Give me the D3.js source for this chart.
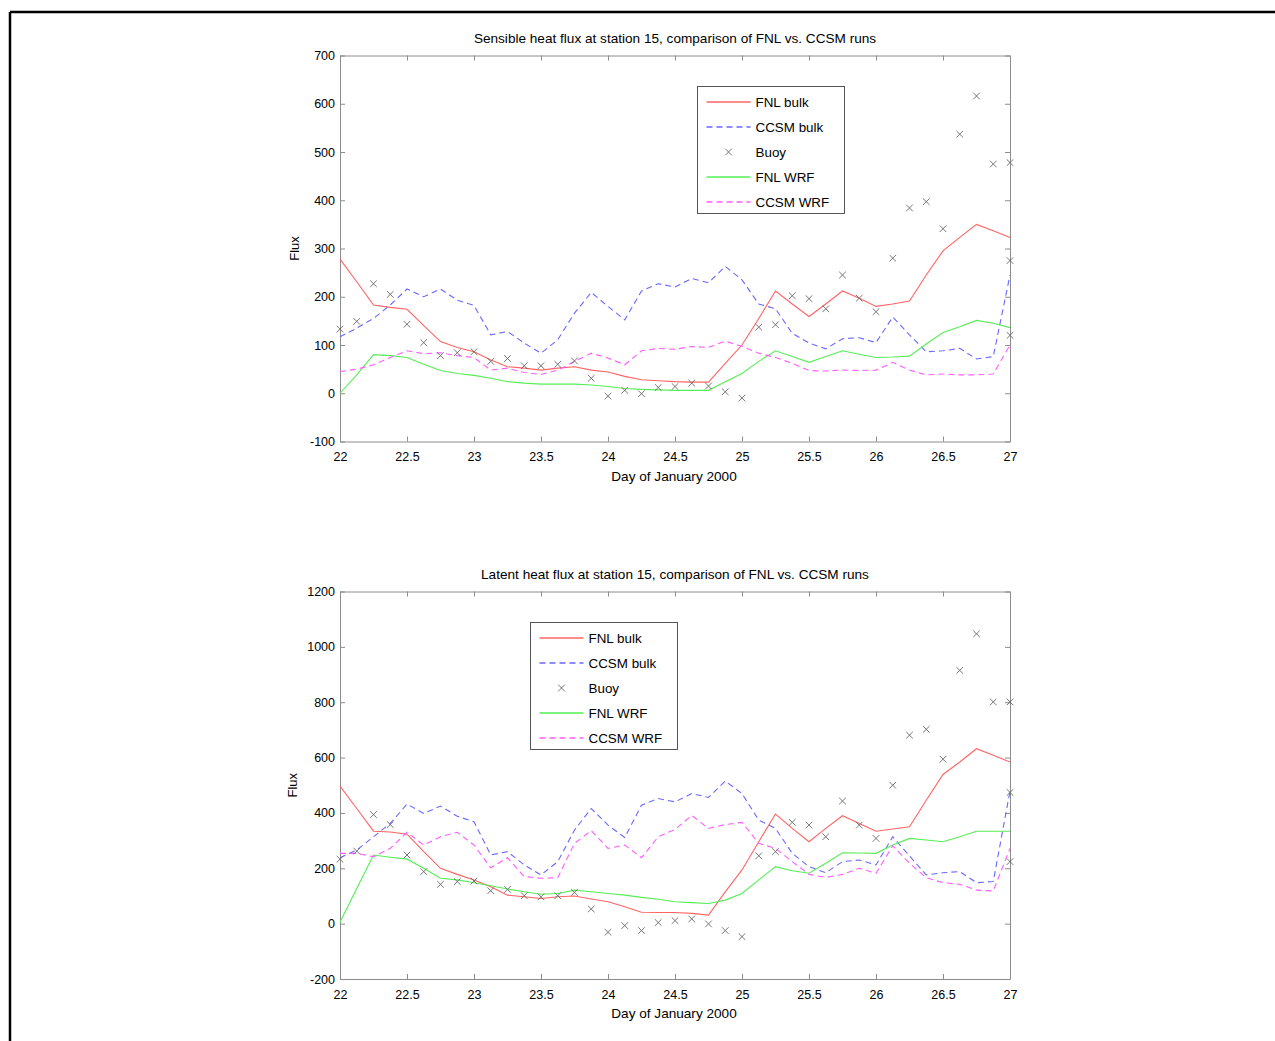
<!doctype html>
<html>
<head>
<meta charset="utf-8">
<title>Heat flux at station 15</title>
<script src="https://d3js.org/d3.v7.min.js"></script>
<style>
    body { margin: 0; background: #fff; }
    svg { display: block; font-family: "Liberation Sans", Arial, Helvetica, sans-serif; }
    .axis path, .axis line { stroke: #8c8c8c; }
    .axis text { fill: #000; font-size: 12.5px; }
</style>
</head>
<body>
<svg width="1275" height="1041"></svg>
<script>

// time axis: every 3 hours from Jan 22 to Jan 27
var days = [22, 22.125, 22.25, 22.375, 22.5, 22.625, 22.75, 22.875,
            23, 23.125, 23.25, 23.375, 23.5, 23.625, 23.75, 23.875,
            24, 24.125, 24.25, 24.375, 24.5, 24.625, 24.75, 24.875,
            25, 25.125, 25.25, 25.375, 25.5, 25.625, 25.75, 25.875,
            26, 26.125, 26.25, 26.375, 26.5, 26.625, 26.75, 26.875, 27];
var dayTicks = [22, 22.5, 23, 23.5, 24, 24.5, 25, 25.5, 26, 26.5, 27];

// sensible heat flux
var sensFnlBulk = [278, 231, 183, 178, 174, 140, 107, 95, 86, 69, 55, 52, 48, 52, 55, 48, 44, 35, 28, 26, 24,
                   23, 23, 62, 100, 155, 212, 185, 159, 185, 212, 197, 180, 185, 191, 245, 295, 323, 350, 337, 323];
var sensCcsmBulk = [117, 135, 155, 183, 216, 200, 216, 193, 182, 121, 128, 104, 83, 111, 166, 209, 180, 152, 212, 227, 220,
                    238, 229, 263, 235, 185, 175, 124, 104, 92, 113, 115, 105, 158, 121, 86, 88, 93, 71, 76, 245];
var sensBuoy = [133, 149, 227, 205, 143, 105, 78, 84, 86, 66, 72, 57, 57, 60, 67, 31, -6, 6, -1, 12, 14,
                21, 15, 3, -10, 137, 142, 202, 196, 175, 245, 197, 169, 280, 384, 397, 341, 537, 616, 475, 478];
var sensBuoyExtraDays = [27, 27];
var sensBuoyExtra = [275, 120];
var sensFnlWrf = [0, 38, 80, 78, 74, 60, 47, 41, 37, 31, 24, 21, 19, 19, 19, 17, 14, 10, 8, 7, 6,
                  6, 6, 24, 41, 66, 88, 76, 64, 76, 88, 81, 74, 75, 77, 102, 126, 138, 151, 145, 136];
var sensCcsmWrf = [45, 50, 59, 74, 88, 82, 84, 78, 74, 48, 52, 43, 39, 48, 66, 83, 73, 59, 88, 93, 91,
                   97, 95, 108, 97, 83, 74, 62, 47, 46, 48, 47, 48, 64, 48, 38, 40, 38, 38, 40, 100];
var sensTicks = [-100, 0, 100, 200, 300, 400, 500, 600, 700];

// latent heat flux
var latFnlBulk = [497, 416, 334, 331, 323, 260, 200, 178, 158, 133, 103, 97, 91, 97, 100, 89, 79, 61, 41, 40, 40,
                  37, 31, 115, 194, 296, 396, 344, 296, 344, 390, 362, 334, 342, 350, 446, 539, 584, 632, 608, 584];
var latCcsmBulk = [238, 266, 314, 362, 432, 398, 425, 388, 368, 248, 260, 212, 176, 224, 338, 416, 356, 311, 428, 452, 440,
                   470, 456, 515, 470, 374, 344, 254, 206, 184, 224, 230, 212, 314, 245, 176, 184, 188, 148, 152, 479];
var latBuoy = [233, 262, 394, 358, 248, 188, 142, 152, 154, 119, 124, 101, 97, 101, 113, 53, -31, -7, -25, 4, 11,
               17, -1, -25, -47, 245, 260, 366, 356, 314, 443, 356, 308, 500, 681, 702, 594, 915, 1047, 801, 801];
var latBuoyExtraDays = [27, 27];
var latBuoyExtra = [474, 224];
var latFnlWrf = [5, 127, 248, 240, 233, 200, 164, 158, 148, 137, 125, 115, 106, 109, 121, 115, 109, 103, 95, 88, 79,
                 76, 73, 85, 109, 158, 206, 191, 182, 218, 256, 255, 254, 284, 308, 302, 296, 314, 334, 334, 334];
var latCcsmWrf = [254, 254, 242, 272, 330, 284, 314, 330, 284, 202, 238, 170, 164, 166, 290, 336, 272, 284, 238, 314, 340,
                  391, 344, 358, 366, 290, 272, 224, 178, 167, 178, 200, 182, 281, 218, 166, 148, 142, 121, 118, 272];
var latTicks = [-200, 0, 200, 400, 600, 800, 1000, 1200];

var seriesNames = ["FNL bulk", "CCSM bulk", "Buoy", "FNL WRF", "CCSM WRF"];
var seriesColors = ["#ff6464", "#6868ff", "#666666", "#55ee55", "#ff5cff"];
var seriesDash = [null, "6,4", null, null, "6,4"];

var svg = d3.select("svg");

// outer frame
svg.append("line").attr("x1", 10).attr("y1", 12).attr("x2", 1275).attr("y2", 12)
   .attr("stroke", "#000").attr("stroke-width", 2.5);
svg.append("line").attr("x1", 10).attr("y1", 12).attr("x2", 10).attr("y2", 1041)
   .attr("stroke", "#000").attr("stroke-width", 2.5);

function drawPanel(p) {
    var x = d3.scaleLinear().domain([22, 27]).range([340, 1010]);
    var y = d3.scaleLinear().domain(p.yDomain).range([p.bottom, p.top]);
    var g = svg.append("g");

    g.append("g").attr("class", "axis")
     .attr("transform", "translate(0," + p.bottom + ")")
     .call(d3.axisBottom(x).tickValues(dayTicks).tickFormat(function(d) { return d; })
           .tickSizeInner(-5).tickSizeOuter(0).tickPadding(11));
    g.append("g").attr("class", "axis")
     .attr("transform", "translate(0," + p.top + ")")
     .call(d3.axisTop(x).tickValues(dayTicks).tickFormat("").tickSizeInner(-5).tickSizeOuter(0));
    g.append("g").attr("class", "axis")
     .attr("transform", "translate(340,0)")
     .call(d3.axisLeft(y).tickValues(p.yTicks).tickFormat(function(d) { return d; })
           .tickSizeInner(-5).tickSizeOuter(0).tickPadding(5));
    g.append("g").attr("class", "axis")
     .attr("transform", "translate(1010,0)")
     .call(d3.axisRight(y).tickValues(p.yTicks).tickFormat("").tickSizeInner(-5).tickSizeOuter(0));

    g.selectAll(".axis .domain").attr("stroke", "#8c8c8c");

    g.append("text").attr("x", 675).attr("y", p.top - 13)
     .attr("text-anchor", "middle").attr("font-size", "13.6px").attr("fill", "#000")
     .text(p.title);
    g.append("text").attr("x", 674).attr("y", p.bottom + 39)
     .attr("text-anchor", "middle").attr("font-size", "13.6px").attr("fill", "#000")
     .text("Day of January 2000");
    g.append("text")
     .attr("transform", "translate(" + p.fluxX + "," + ((p.top + p.bottom) / 2) + ") rotate(-90)")
     .attr("text-anchor", "middle").attr("font-size", "13px").attr("fill", "#000")
     .text("Flux");

    var line = d3.line()
        .x(function(d, i) { return x(days[i]); })
        .y(function(d) { return y(d); });

    [0, 1, 3, 4].forEach(function(k) {
        g.append("path").datum(p.series[k])
         .attr("fill", "none")
         .attr("stroke", seriesColors[k])
         .attr("stroke-width", 1.1)
         .attr("stroke-dasharray", seriesDash[k])
         .attr("d", line);
    });

    var buoyPts = p.series[2].map(function(v, i) { return [days[i], v]; })
        .concat(p.extraDays.map(function(d, i) { return [d, p.extraVals[i]]; }));
    var m = 3.3;
    g.selectAll(".buoy").data(buoyPts).enter().append("path")
     .attr("class", "buoy")
     .attr("fill", "none").attr("stroke", seriesColors[2]).attr("stroke-width", 0.9)
     .attr("d", function(d) {
         var cx = x(d[0]), cy = y(d[1]);
         return "M" + (cx - m) + "," + (cy - m) + "L" + (cx + m) + "," + (cy + m) +
                "M" + (cx - m) + "," + (cy + m) + "L" + (cx + m) + "," + (cy - m);
     });

    // legend
    var lg = g.append("g").attr("transform", "translate(" + p.legend[0] + "," + p.legend[1] + ")");
    lg.append("rect").attr("width", 147).attr("height", 127)
      .attr("fill", "#fff").attr("stroke", "#555").attr("stroke-width", 1);
    seriesNames.forEach(function(name, k) {
        var ly = 15.5 + k * 25;
        if (k === 2) {
            lg.append("path")
              .attr("d", "M" + (31 - m) + "," + (ly - m) + "L" + (31 + m) + "," + (ly + m) +
                         "M" + (31 - m) + "," + (ly + m) + "L" + (31 + m) + "," + (ly - m))
              .attr("fill", "none").attr("stroke", seriesColors[k]).attr("stroke-width", 0.9);
        } else {
            lg.append("line").attr("x1", 9).attr("x2", 53).attr("y1", ly).attr("y2", ly)
              .attr("stroke", seriesColors[k]).attr("stroke-width", 1.3)
              .attr("stroke-dasharray", seriesDash[k]);
        }
        lg.append("text").attr("x", 58).attr("y", ly + 4.5)
          .attr("font-size", "13.4px").attr("fill", "#000").text(name);
    });
}

drawPanel({
    title: "Sensible heat flux at station 15, comparison of FNL vs. CCSM runs",
    yDomain: [-100, 700], yTicks: sensTicks,
    top: 55.5, bottom: 441.5, fluxX: 299,
    series: [sensFnlBulk, sensCcsmBulk, sensBuoy, sensFnlWrf, sensCcsmWrf],
    extraDays: sensBuoyExtraDays, extraVals: sensBuoyExtra,
    legend: [697.5, 86.5]
});

drawPanel({
    title: "Latent heat flux at station 15, comparison of FNL vs. CCSM runs",
    yDomain: [-200, 1200], yTicks: latTicks,
    top: 591.5, bottom: 979, fluxX: 297,
    series: [latFnlBulk, latCcsmBulk, latBuoy, latFnlWrf, latCcsmWrf],
    extraDays: latBuoyExtraDays, extraVals: latBuoyExtra,
    legend: [530.5, 622.5]
});
</script>
</body>
</html>
